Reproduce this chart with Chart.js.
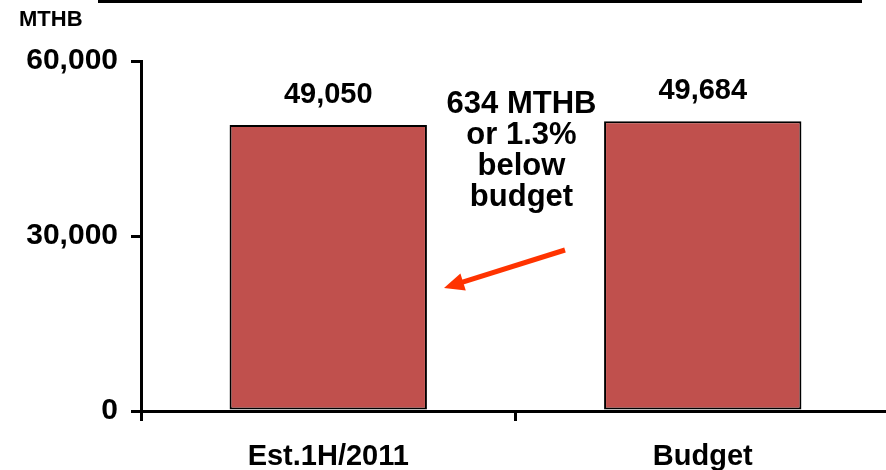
<!DOCTYPE html>
<html>
<head>
<meta charset="utf-8">
<script src="https://cdn.jsdelivr.net/npm/chart.js@4.4.0/dist/chart.umd.min.js"></script>
<style>
  html, body { margin: 0; padding: 0; background: #fff; overflow: hidden; }
  #wrap { width: 890px; height: 470px; }
</style>
</head>
<body>
<div id="wrap"><canvas id="bar-chart" width="890" height="470"></canvas></div>
<script>
const categories = ['Est.1H/2011', 'Budget'];
const revenue = [49050, 49684];
const yTicks = [0, 30000, 60000];
const unitLabel = 'MTHB';
const noteLines = ['634 MTHB', 'or 1.3%', 'below', 'budget'];

const FONT = '"Liberation Sans", Arial, sans-serif';

// value labels, unit, note and arrow drawn on top of the bars
const extras = {
	id: 'extras',
	afterDatasetsDraw(chart) {
		const ctx = chart.ctx;
		const x = chart.scales.x;
		const meta = chart.getDatasetMeta(0);
		ctx.save();
		ctx.fillStyle = '#000';
		ctx.textAlign = 'center';
		ctx.textBaseline = 'middle';
		ctx.font = 'bold 29px ' + FONT;
		meta.data.forEach((bar, i) => {
			ctx.fillText(revenue[i].toLocaleString('en-US'), bar.x, bar.y - 30);
		});

		// cut-off title underline at the very top
		ctx.fillRect(98, 0, 764, 3);

		ctx.textAlign = 'left';
		ctx.font = 'bold 22px ' + FONT;
		ctx.fillText(unitLabel, 19, 20);

		// note between the bars
		const midX = (x.getPixelForValue(0) + x.getPixelForValue(1)) / 2 + 6;
		ctx.textAlign = 'center';
		ctx.font = 'bold 31px ' + FONT;
		noteLines.forEach((line, i) => {
			ctx.fillText(line, midX, 104 + i * 31);
		});

		// arrow pointing at the first bar
		const x0 = 565, y0 = 250, x1 = 444, y1 = 288;
		const ang = Math.atan2(y1 - y0, x1 - x0);
		ctx.strokeStyle = '#FF3300';
		ctx.fillStyle = '#FF3300';
		ctx.lineWidth = 5;
		ctx.beginPath();
		ctx.moveTo(x0, y0);
		ctx.lineTo(x1 - 12 * Math.cos(ang), y1 - 12 * Math.sin(ang));
		ctx.stroke();
		ctx.beginPath();
		ctx.moveTo(x1, y1);
		ctx.lineTo(x1 - 20 * Math.cos(ang) + 9 * Math.sin(ang), y1 - 20 * Math.sin(ang) - 9 * Math.cos(ang));
		ctx.lineTo(x1 - 20 * Math.cos(ang) - 9 * Math.sin(ang), y1 - 20 * Math.sin(ang) + 9 * Math.cos(ang));
		ctx.closePath();
		ctx.fill();
		ctx.restore();
	}
};

const ctx = document.getElementById('bar-chart');
const myChart = new Chart(ctx, {
	type: 'bar',
	data: {
		labels: categories,
		datasets: [{
			data: revenue,
			backgroundColor: '#C0504D',
			borderColor: '#000',
			borderWidth: 2,
			borderSkipped: false,
			categoryPercentage: 1,
			barPercentage: 0.527
		}]
	},
	options: {
		responsive: false,
		animation: false,
		layout: { padding: { top: 61, right: 0, left: 0, bottom: 0 } },
		plugins: { legend: { display: false }, tooltip: { enabled: false } },
		scales: {
			x: {
				offset: true,
				grid: { drawOnChartArea: false, color: '#000', lineWidth: 3, tickLength: 10, offset: true },
				border: { display: true, color: '#000', width: 3 },
				ticks: { color: '#000', font: { family: FONT, size: 29, weight: 'bold' }, padding: 19, maxRotation: 0 },
				afterFit(scale) { scale.height = 59; }
			},
			y: {
				min: 0,
				max: 60000,
				afterBuildTicks(scale) { scale.ticks = yTicks.map(v => ({ value: v })); },
				grid: { drawOnChartArea: false, color: '#000', lineWidth: 3, tickLength: 10 },
				border: { display: true, color: '#000', width: 3 },
				ticks: {
					color: '#000',
					font: { family: FONT, size: 30, weight: 'bold' },
					padding: 13,
					callback: v => v.toLocaleString('en-US')
				},
				afterFit(scale) { scale.width = 141; }
			}
		}
	},
	plugins: [extras]
});
</script>
</body>
</html>
